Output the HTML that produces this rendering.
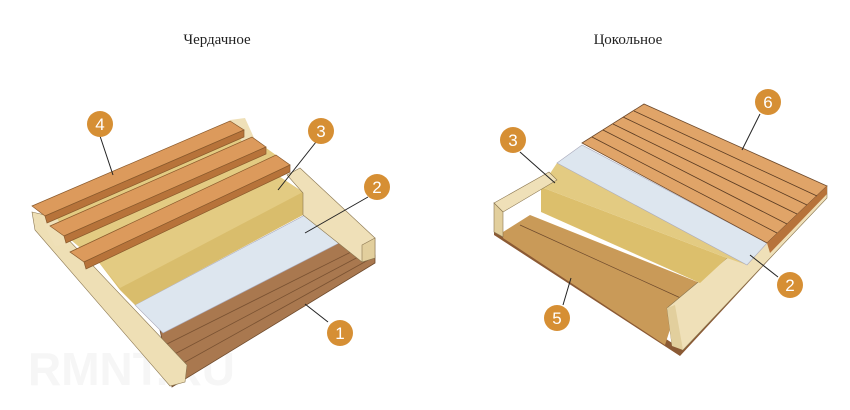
<!DOCTYPE html>
<html><head><meta charset="utf-8"><style>
html,body{margin:0;padding:0;background:#fff;}
svg{display:block;}
</style></head><body>
<svg width="850" height="410" viewBox="0 0 850 410" xmlns="http://www.w3.org/2000/svg">
<text x="217" y="44" font-family="Liberation Serif, serif" font-size="15" text-anchor="middle" fill="#222">Чердачное</text>
<text x="628" y="44" font-family="Liberation Serif, serif" font-size="15" text-anchor="middle" fill="#222">Цокольное</text>

<!-- LEFT -->
<text x="28" y="385" font-family="Liberation Sans, sans-serif" font-size="46" font-weight="bold" fill="#f6f6f6">RMNT.RU</text>
<!-- bricks -->
<polygon points="160,330 345,240 375,255 375,263 172,387" fill="#a9784f" stroke="#6e4a2c" stroke-width="0.8"/>
<g stroke="#7a5232" stroke-width="0.8" fill="none">
<line x1="165" y1="345" x2="355" y2="250"/><line x1="167" y1="358" x2="362" y2="255"/><line x1="169" y1="371" x2="370" y2="259"/>
</g>
<!-- film -->
<polygon points="135,305 305,215 345,240 163,333" fill="#dde6ef" stroke="#aab" stroke-width="0.6"/>
<!-- insulation behind boards -->
<polygon points="45,218 238,128 290,165 97,262" fill="#e3cb82"/>
<!-- insulation -->
<polygon points="97,260 277,175 303,192 303,215 135,305 120,290" fill="#d9bd6c"/>
<polygon points="97,260 277,175 303,192 120,288" fill="#e3cb82"/>
<!-- right beam -->
<polygon points="287,175 300,168 375,238 375,258 362,262 303,215 303,193" fill="#efe0b8" stroke="#8a7650" stroke-width="0.6"/>
<polygon points="362,245 375,238 375,258 362,262" fill="#e2cf9d" stroke="#8a7650" stroke-width="0.6"/>
<!-- left beam -->
<polygon points="32,212 45,215 187,365 185,382 170,386 35,230" fill="#eedfb5" stroke="#8a7650" stroke-width="0.6"/>
<!-- joist ends -->
<polygon points="230,120 245,118 255,140 242,142" fill="#efe0b8"/>
<polygon points="40,216 55,214 70,244 55,246" fill="#efe0b8"/>
<!-- board strips -->
<g stroke="#8a5a2c" stroke-width="0.7">
<polygon points="32,206 230,121 244,130 45,216" fill="#dc9a5c"/>
<polygon points="45,216 244,130 244,137 47,223" fill="#b7733a"/>
<polygon points="50,226 252,137 266,147 64,236" fill="#dc9a5c"/>
<polygon points="64,236 266,147 266,154 66,243" fill="#b7733a"/>
<polygon points="70,252 276,155 290,165 84,262" fill="#dc9a5c"/>
<polygon points="84,262 290,165 290,172 86,269" fill="#b7733a"/>
</g>

<!-- RIGHT -->
<polygon points="494,228 680,348 827,190 827,197 680,356 494,235" fill="#8b5a34"/>
<polygon points="503,232 530,215 700,283 673,320 665,345 503,238" fill="#c99a58"/>
<line x1="520" y1="225" x2="685" y2="300" stroke="#6e4a2c" stroke-width="0.7"/>
<polygon points="667,308 727,258 827,186 827,198 683,350 672,345" fill="#efe0b8" stroke="#8a7650" stroke-width="0.6"/>
<polygon points="667,308 675,305 683,350 672,346" fill="#e2cf9d"/>
<polygon points="541,187 727,258 700,283 541,212" fill="#dcbf6c"/>
<polygon points="541,187 557,163 747,265 727,258" fill="#e3cb82"/>
<polygon points="557,163 582,145 767,243 747,265" fill="#dde6ef" stroke="#aab" stroke-width="0.6"/>
<polygon points="494,203 549,172 557,180 503,212" fill="#efe0b8" stroke="#8a7650" stroke-width="0.6"/>
<polygon points="494,203 503,212 503,237 494,232" fill="#e2cf9d" stroke="#8a7650" stroke-width="0.6"/>
<polygon points="582,143 644,104 827,186 767,243" fill="#e0a468" stroke="#6e4a2c" stroke-width="0.8"/>
<polygon points="767,243 827,186 827,194 770,253" fill="#b7733a"/>
<g stroke="#5a3b22" stroke-width="0.8">
<line x1="592" y1="137" x2="777" y2="233"/>
<line x1="603" y1="130" x2="787" y2="224"/>
<line x1="613" y1="124" x2="797" y2="214"/>
<line x1="623" y1="117" x2="807" y2="205"/>
<line x1="634" y1="111" x2="817" y2="196"/>
</g>

<!-- leaders -->
<g stroke="#222" stroke-width="1">
<line x1="100" y1="136" x2="113" y2="175"/>
<line x1="316" y1="142" x2="278" y2="190"/>
<line x1="368" y1="197" x2="305" y2="233"/>
<line x1="328" y1="322" x2="305" y2="304"/>
<line x1="520" y1="152" x2="555" y2="183"/>
<line x1="760" y1="114" x2="742" y2="150"/>
<line x1="778" y1="277" x2="750" y2="255"/>
<line x1="563" y1="305" x2="571" y2="278"/>
</g>
<g font-family="Liberation Sans, sans-serif" font-size="17" fill="#fff" text-anchor="middle">
<circle cx="100" cy="124" r="13" fill="#d68f34"/><text x="100" y="130">4</text>
<circle cx="321" cy="131" r="13" fill="#d68f34"/><text x="321" y="137">3</text>
<circle cx="377" cy="187" r="13" fill="#d68f34"/><text x="377" y="193">2</text>
<circle cx="340" cy="333" r="13" fill="#d68f34"/><text x="340" y="339">1</text>
<circle cx="513" cy="140" r="13" fill="#d68f34"/><text x="513" y="146">3</text>
<circle cx="768" cy="102" r="13" fill="#d68f34"/><text x="768" y="108">6</text>
<circle cx="790" cy="285" r="13" fill="#d68f34"/><text x="790" y="291">2</text>
<circle cx="557" cy="318" r="13" fill="#d68f34"/><text x="557" y="324">5</text>
</g>
</svg>
</body></html>
